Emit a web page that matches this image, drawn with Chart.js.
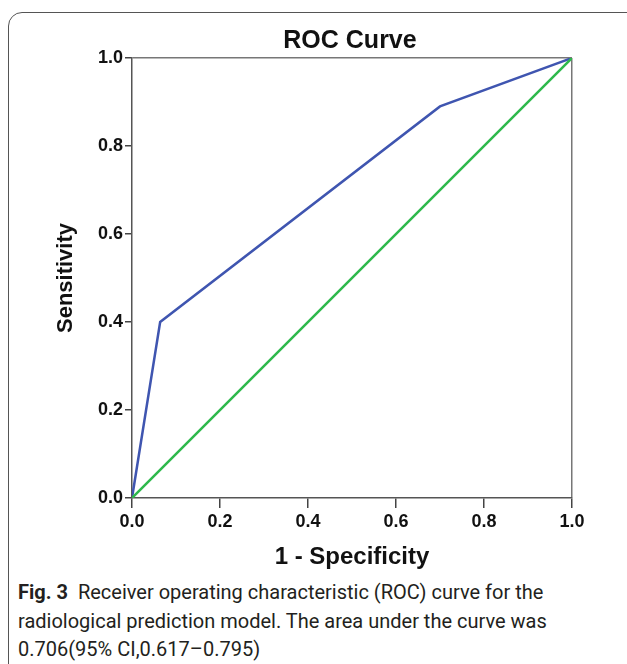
<!DOCTYPE html>
<html>
<head>
<meta charset="utf-8">
<script src="https://cdn.jsdelivr.net/npm/chart.js@4/dist/chart.umd.min.js"></script>
<style>
  html, body { margin: 0; padding: 0; background: #fff; }
  body { width: 627px; height: 664px; position: relative; overflow: hidden; }
  #frame { position: absolute; left: 8px; top: 12px; width: 640px; height: 700px;
           border: 1.5px solid #555; border-radius: 14px; box-sizing: border-box; }
  #wrap { position: absolute; left: 0; top: 0; width: 627px; height: 575px; }
  #caption { position: absolute; left: 18px; top: 578px; width: 605px;
             font-family: "Roboto", "Liberation Sans", sans-serif; font-size: 20px;
             line-height: 28.5px; color: #231f20; white-space: nowrap; }
  #caption b { font-weight: 700; }
</style>
</head>
<body>
<div id="frame"></div>
<div id="wrap"><canvas id="c"></canvas></div>
<div id="caption"><b>Fig. 3</b>&nbsp; Receiver operating characteristic (ROC) curve for the<br>radiological prediction model. The area under the curve was<br>0.706(95% CI,0.617–0.795)</div>
<script>
const chartTitle = "ROC Curve";
const xTitle = "1 - Specificity";
const yTitle = "Sensitivity";
const rocFpr = [0, 0.064, 0.70, 1.0];
const rocTpr = [0, 0.40, 0.89, 1.0];
const refFpr = [0, 1.0];
const refTpr = [0, 1.0];
const tickValues = [0, 0.2, 0.4, 0.6, 0.8, 1.0];

const toPts = (xs, ys) => xs.map((x, i) => ({ x: x, y: ys[i] }));
const frameColor = (ctx) => (ctx.tick && ctx.tick.value === 1) ? '#777' : 'rgba(0,0,0,0)';
const FAM = "'Liberation Sans', Arial, sans-serif";
const tickFont = { family: FAM, size: 18, weight: 'bold' };

const plotTitle = {
  id: 'plotTitle',
  afterDraw(chart) {
    const { ctx, chartArea } = chart;
    ctx.save();
    ctx.font = "bold 25px " + FAM;
    ctx.fillStyle = '#111';
    ctx.textAlign = 'center';
    ctx.textBaseline = 'alphabetic';
    ctx.fillText(chartTitle, (chartArea.left + chartArea.right) / 2 - 2, 48);
    ctx.restore();
  }
};

new Chart(document.getElementById('c'), {
  type: 'scatter',
  data: {
    datasets: [
      { data: toPts(refFpr, refTpr), showLine: true, borderColor: '#2db84b', borderWidth: 2.5,
        pointRadius: 0, fill: false, tension: 0 },
      { data: toPts(rocFpr, rocTpr), showLine: true, borderColor: '#3f55b0', borderWidth: 2.5,
        pointRadius: 0, fill: false, tension: 0 }
    ]
  },
  plugins: [plotTitle],
  options: {
    responsive: true,
    maintainAspectRatio: false,
    animation: false,
    devicePixelRatio: 1,
    layout: { padding: { left: 0, right: 55, top: 58, bottom: 0 } },
    plugins: {
      legend: { display: false },
      tooltip: { enabled: false },
      title: { display: false }
    },
    scales: {
      x: {
        type: 'linear', min: 0, max: 1,
        afterBuildTicks: (s) => { s.ticks = tickValues.map(v => ({ value: v })); },
        ticks: { color: '#111', font: tickFont, padding: 3, maxRotation: 0,
                 callback: (v) => Number(v).toFixed(1) },
        grid: { color: frameColor, lineWidth: 1.5, tickColor: '#444', tickLength: 10, tickWidth: 1.5 },
        border: { display: true, color: '#555', width: 1.5 },
        title: { display: true, text: xTitle, color: '#111', font: { family: FAM, size: 24, weight: 'bold' },
                 padding: { top: 0, bottom: 3.6 } },
        afterFit: (s) => { s.height = 77; }
      },
      y: {
        type: 'linear', min: 0, max: 1,
        afterBuildTicks: (s) => { s.ticks = tickValues.map(v => ({ value: v })); },
        ticks: { color: '#111', font: tickFont, padding: 2,
                 callback: (v) => Number(v).toFixed(1) },
        grid: { color: frameColor, lineWidth: 1.5, tickColor: '#444', tickLength: 7, tickWidth: 1.5 },
        border: { display: true, color: '#555', width: 1.5 },
        title: { display: true, text: yTitle, color: '#111', font: { family: FAM, size: 22, weight: 'bold' },
                 padding: { top: 53, bottom: 0 } },
        afterFit: (s) => { s.width = 132; }
      }
    }
  }
});
</script>
</body>
</html>
